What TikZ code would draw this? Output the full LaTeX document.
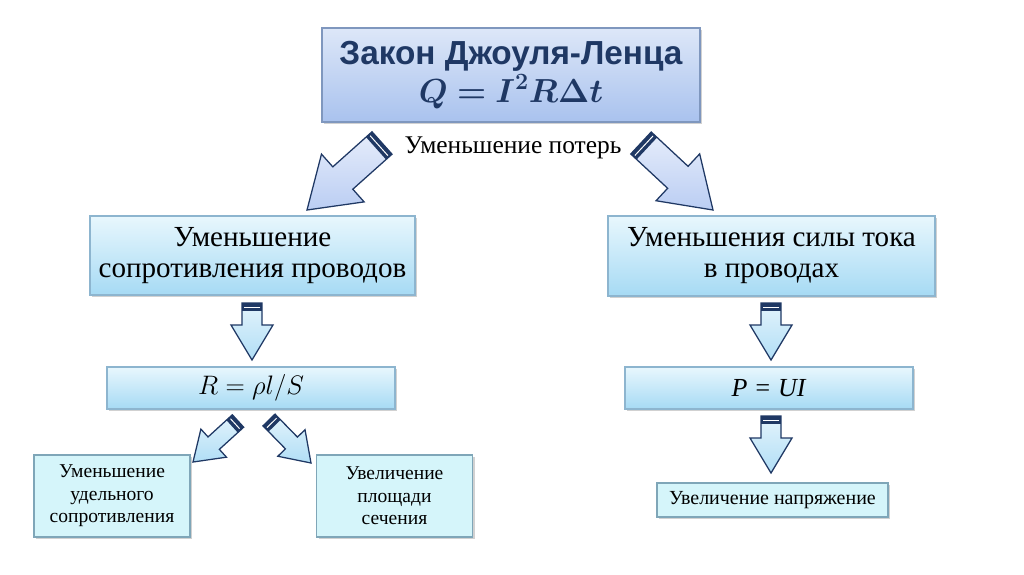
\RequirePackage{fix-cm}
\documentclass[tikz,border=0pt]{standalone}
\usepackage{amsmath,bm}
\usepackage{fontspec}
\setmainfont{Liberation Serif}
\newfontfamily\headfont{Liberation Sans}
\usepackage{tikz}
\usetikzlibrary{calc,shadows}
\definecolor{cNavy}{HTML}{1F3864}
\definecolor{cLawT}{HTML}{DDE7F8}
\definecolor{cLawB}{HTML}{A9C2EE}
\definecolor{cLawLine}{HTML}{7F97BE}
\definecolor{cBoxT}{HTML}{E8F7FD}
\definecolor{cBoxB}{HTML}{A6DAF4}
\definecolor{cBoxLine}{HTML}{8DB5CF}
\definecolor{cLeaf}{HTML}{D5F5FA}
\definecolor{cLeafLine}{HTML}{7FA6B8}
\definecolor{cArrBig}{HTML}{9DB8EE}
\definecolor{cArrSky}{HTML}{8FD0F2}
% block arrow: [colour]{tail}{tip}{half shaft}{half head}{head length}
\newcommand{\blkarr}[6][cArrSky]{%
  \coordinate (ba-h) at ($(#3)!#6!(#2)$);
  \coordinate (ba-b) at ($(#2)!0.2cm!(#3)$);
  \coordinate (ba-m) at ($(#2)!0.1cm!(#3)$);
  \path[blk=#1] ($(#2)!#4!90:(#3)$) -- ($(ba-h)!#4!90:(#3)$) -- ($(ba-h)!#5!90:(#3)$) -- (#3)
    -- ($(ba-h)!#5!-90:(#3)$) -- ($(ba-h)!#4!-90:(#3)$) -- ($(#2)!#4!-90:(#3)$) -- cycle;
  \fill[cNavy] ($(#2)!#4!90:(#3)$) -- ($(ba-b)!#4!90:(#3)$) -- ($(ba-b)!#4!-90:(#3)$) -- ($(#2)!#4!-90:(#3)$) -- cycle;
  \draw[white,line width=0.7pt,shorten >=1.2pt,shorten <=1.2pt] ($(ba-m)!#4!90:(#3)$) -- ($(ba-m)!#4!-90:(#3)$);
}
\tikzset{
  shbox/.style={drop shadow={shadow xshift=1.5pt,shadow yshift=-1.5pt,opacity=.3,fill=black!60}},
  lawbox/.style={draw=cLawLine,line width=0.8pt,top color=cLawT,bottom color=cLawB,shbox,align=center,text=cNavy,inner sep=3pt},
  midbox/.style={draw=cBoxLine,line width=0.8pt,top color=cBoxT,bottom color=cBoxB,shbox,align=center,inner sep=3pt},
  leaf/.style={draw=cLeafLine,line width=0.8pt,fill=cLeaf,shbox,align=center,inner sep=3pt},
  lbl/.style={font=\fontsize{18.1}{20}\selectfont,inner sep=1pt},
  blk/.style={draw=cNavy,line width=0.9pt,line join=miter,top color=#1!25,bottom color=#1!70},
}
\begin{document}
\begin{tikzpicture}[x=0.025cm,y=-0.025cm]
  \useasboundingbox (0,0) rectangle (1024,574);
  \node[lawbox,minimum width=9.45cm,minimum height=2.35cm,font=\fontsize{23.7}{26.5}\selectfont] (law) at (511,75)
    {\headfont\bfseries Закон Джоуля-Ленца\\ $\bm{Q = I^{2}R\Delta t}$};
  \node[lbl] (loss) at (513,148) {Уменьшение потерь};
  \node[midbox,minimum width=8.125cm,minimum height=1.975cm,font=\fontsize{20.7}{22}\selectfont] (resist) at (252.5,255.5)
    {Уменьшение\\ сопротивления проводов};
  \node[midbox,minimum width=8.175cm,minimum height=2.0cm,font=\fontsize{20.7}{22}\selectfont] (current) at (771.5,256)
    {Уменьшения силы тока\\ в проводах};
  \node[midbox,minimum width=7.2cm,minimum height=1.05cm,font=\fontsize{19}{22}\selectfont] (rform) at (251,388) {$R = \rho l/S$};
  \node[midbox,minimum width=7.2cm,minimum height=1.05cm,font=\fontsize{18.5}{22}\selectfont] (pform) at (769,388) {\textit{P = UI}};
  \node[leaf,minimum width=3.9cm,minimum height=2.05cm,font=\fontsize{13.9}{15.9}\selectfont] (spec) at (112,496)
    {Уменьшение\\ удельного\\ сопротивления};
  \node[leaf,minimum width=3.9cm,minimum height=2.05cm,font=\fontsize{13.9}{15.9}\selectfont] (area) at (394.5,496)
    {Увеличение\\ площади\\ сечения};
  \node[leaf,minimum width=5.775cm,minimum height=0.85cm,font=\fontsize{14.2}{16}\selectfont] (volt) at (772.5,500)
    {Увеличение напряжение};
  % arrow ends
  \coordinate (lossL-t) at (382,143); \coordinate (lossL-h) at (307,210);
  \coordinate (lossR-t) at (641,143); \coordinate (lossR-h) at (713,210);
  \coordinate (resist-t) at (252,303); \coordinate (resist-h) at (252,360);
  \coordinate (current-t) at (771,303); \coordinate (current-h) at (771,360);
  \coordinate (pform-t) at (771,416); \coordinate (pform-h) at (771,473);
  \coordinate (rformL-t) at (238,421); \coordinate (rformL-h) at (193,462);
  \coordinate (rformR-t) at (269,420); \coordinate (rformR-h) at (311,463);
  \blkarr[cArrBig]{lossL-t}{lossL-h}{0.375cm}{0.8cm}{1.2cm}
  \blkarr[cArrBig]{lossR-t}{lossR-h}{0.375cm}{0.8cm}{1.2cm}
  \blkarr{resist-t}{resist-h}{0.25cm}{0.525cm}{0.875cm}
  \blkarr{current-t}{current-h}{0.25cm}{0.525cm}{0.875cm}
  \blkarr{pform-t}{pform-h}{0.25cm}{0.525cm}{0.875cm}
  \blkarr{rformL-t}{rformL-h}{0.21cm}{0.475cm}{0.7cm}
  \blkarr{rformR-t}{rformR-h}{0.21cm}{0.475cm}{0.7cm}
\end{tikzpicture}
\end{document}
